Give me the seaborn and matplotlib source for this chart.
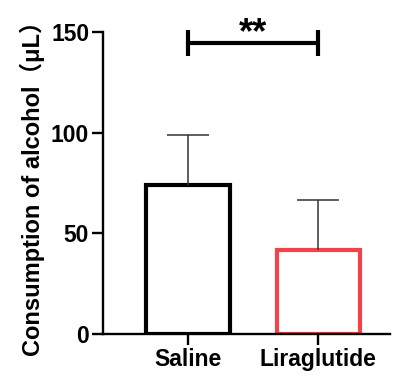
import matplotlib
matplotlib.use("Agg")
import matplotlib.pyplot as plt
import seaborn as sns
import pandas as pd
import numpy as np

groups = ["Saline", "Liraglutide"]
means = [74.0, 41.7]
sds = [25.0, 25.0]
bar_colors = ["#000000", "#F0444A"]
y_ticks = [0, 50, 100, 150]
sig_label = "**"

sns.set_theme(style="ticks")
plt.rcParams["font.family"] = ["Liberation Sans", "Noto Sans CJK SC", "DejaVu Sans"]
plt.rcParams["font.weight"] = "bold"
for k in ["text.color", "axes.labelcolor", "xtick.color", "ytick.color"]:
    plt.rcParams[k] = "black"

fig = plt.figure(figsize=(3.98, 3.76), dpi=100)
ax = fig.add_axes([0.259, 0.112, 0.721, 0.803])

df = pd.DataFrame({"group": groups, "value": means})
sns.barplot(data=df, x="group", y="value", hue="group", palette=bar_colors,
            fill=False, linewidth=3, width=0.64, errorbar=None, legend=False, ax=ax)

eb = ax.errorbar(range(len(groups)), means, yerr=[np.zeros(len(sds)), sds], fmt="none",
                 ecolor="#333333", elinewidth=1.1, capsize=15, capthick=1.1, zorder=1)
caps = eb.lines[1]
if len(caps) > 1:
    caps[0].set_visible(False)

ax.set_xlim(-0.65, 1.55)
ax.set_ylim(0, 150)
ax.set_yticks(y_ticks)
ax.set_yticklabels([str(t) for t in y_ticks])
ax.set_xlabel("")
ax.set_ylabel("Consumption of alcohol（μL）", fontsize=17, fontweight="bold", labelpad=4)
ax.tick_params(axis="both", labelsize=16.5, width=1.7, length=8, pad=2, color="black")
for lab in ax.get_xticklabels() + ax.get_yticklabels():
    lab.set_fontweight("bold")
sns.despine(ax=ax)
for s in ["left", "bottom"]:
    ax.spines[s].set_linewidth(1.7)
    ax.spines[s].set_color("black")

# significance bracket
yb = 144.6
ax.plot([0, 1], [yb, yb], color="black", lw=3, clip_on=False, solid_capstyle="butt")
ax.plot([0, 0], [yb - 6.3, yb + 6.3], color="black", lw=3, clip_on=False, solid_capstyle="butt")
ax.plot([1, 1], [yb - 6.3, yb + 6.3], color="black", lw=3, clip_on=False, solid_capstyle="butt")
ax.text(0.5, yb, sig_label, ha="center", va="baseline", fontsize=26, fontweight="bold", clip_on=False)

fig.savefig("out.png", dpi=100)
